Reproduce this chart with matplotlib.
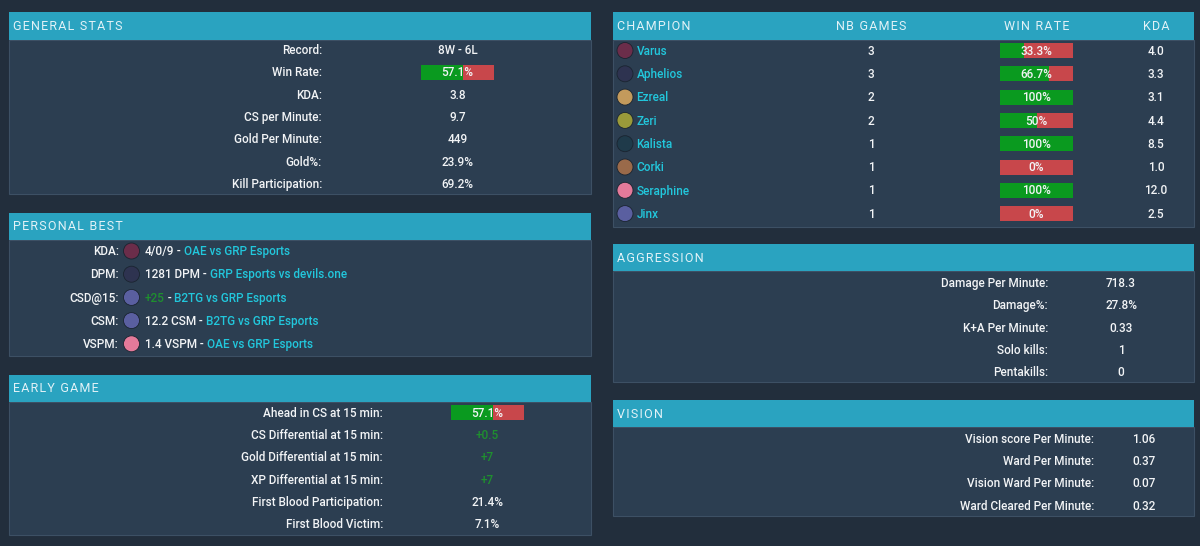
import matplotlib
matplotlib.use("Agg")
import matplotlib.pyplot as plt
from matplotlib.patches import Rectangle, Circle

plt.rcParams['font.family'] = ['Roboto', 'DejaVu Sans']

# ---------------- data ----------------
general_labels = ["Record:", "Win Rate:", "KDA:", "CS per Minute:", "Gold Per Minute:",
                  "Gold%:", "Kill Participation:"]
general_values = ["8W - 6L", "57.1%", "3.8", "9.7", "449", "23.9%", "69.2%"]
general_winrate = 57.1

pb_labels = ["KDA:", "DPM:", "CSD@15:", "CSM:", "VSPM:"]
pb_champs = ["Varus", "Aphelios", "Jinx", "Jinx", "Seraphine"]
pb_values = ["4/0/9", "1281 DPM", "+25", "12.2 CSM", "1.4 VSPM"]
pb_matches = ["OAE vs GRP Esports", "GRP Esports vs devils.one", "B2TG vs GRP Esports",
              "B2TG vs GRP Esports", "OAE vs GRP Esports"]

early_labels = ["Ahead in CS at 15 min:", "CS Differential at 15 min:",
                "Gold Differential at 15 min:", "XP Differential at 15 min:",
                "First Blood Participation:", "First Blood Victim:"]
early_values = ["57.1%", "+0.5", "+7", "+7", "21.4%", "7.1%"]
early_ahead = 57.1

champ_header = ["CHAMPION", "NB GAMES", "WIN RATE", "KDA"]
champions = ["Varus", "Aphelios", "Ezreal", "Zeri", "Kalista", "Corki", "Seraphine", "Jinx"]
nb_games = [3, 3, 2, 2, 1, 1, 1, 1]
champ_winrate = [33.3, 66.7, 100, 50, 100, 0, 100, 0]
champ_winrate_txt = ["33.3%", "66.7%", "100%", "50%", "100%", "0%", "100%", "0%"]
champ_kda = ["4.0", "3.3", "3.1", "4.4", "8.5", "1.0", "12.0", "2.5"]

aggr_labels = ["Damage Per Minute:", "Damage%:", "K+A Per Minute:", "Solo kills:", "Pentakills:"]
aggr_values = ["718.3", "27.8%", "0.33", "1", "0"]

vision_labels = ["Vision score Per Minute:", "Ward Per Minute:", "Vision Ward Per Minute:",
                 "Ward Cleared Per Minute:"]
vision_values = ["1.06", "0.37", "0.07", "0.32"]

# ---------------- style ----------------
BG = "#222e3c"
PANEL = "#2c3e51"
HEADER = "#2aa3c0"
BORDER = "#3d5064"
WHITE = "#f2f4f6"
CYAN = "#22c7dc"
GREEN = "#0a9a1f"
RED = "#c8474b"
GREEN_TXT = "#1f8f2f"
HEAD_TXT = "#e2f2f7"
FS = 8.5
FW = "medium"
HFS = 9.0
DY = 0.7

champ_colors = {"Varus": "#6b2d4a", "Aphelios": "#2e3350", "Ezreal": "#c39a5c",
                "Zeri": "#9a9a3a", "Kalista": "#1f3a4a", "Corki": "#9a6a4a",
                "Seraphine": "#e47a9a", "Jinx": "#5a5fa0"}

fig = plt.figure(figsize=(12, 5.46), dpi=100, facecolor=BG)
ax = fig.add_axes([0, 0, 1, 1])
ax.set_xlim(0, 1200)
ax.set_ylim(546, 0)
ax.axis("off")
ax.set_facecolor(BG)


def spaced(s):
    return "\u200a".join(list(s))


def txt(x, y, s, color=WHITE, ha="left"):
    return ax.text(x, y + DY, s, color=color, fontsize=FS, fontweight=FW, ha=ha, va="center")


def head(x, y, s, ha="left"):
    ax.text(x, y, spaced(s), color=HEAD_TXT, fontsize=HFS, fontweight="normal",
            va="center", ha=ha)


def panel(x0, x1, ht, hb, bb, title):
    ax.add_patch(Rectangle((x0, hb), x1 - x0, bb - hb, facecolor=PANEL, edgecolor=BORDER, lw=0.8))
    ax.add_patch(Rectangle((x0, ht), x1 - x0, hb - ht, facecolor=HEADER, edgecolor="none"))
    if title:
        head(x0 + 4, (ht + hb) / 2 + 0.5, title)


def wr_bar(xc, y, pct, label, w=73, h=15):
    x0 = xc - w / 2
    g = w * pct / 100.0
    ax.barh([y], [g], left=[x0], height=h, color=GREEN, edgecolor="none")
    ax.barh([y], [w - g], left=[x0 + g], height=h, color=RED, edgecolor="none")
    txt(xc, y, label, ha="center")


def icon(x, y, name, r=8):
    ax.add_patch(Circle((x, y), r, facecolor=champ_colors[name], edgecolor="#1a2430", lw=0.6))


# General stats
panel(9, 591, 12, 40, 194, "GENERAL STATS")
gy = [50, 72.3, 94.6, 116.9, 139.2, 161.5, 183.6]
for i, (lab, val) in enumerate(zip(general_labels, general_values)):
    txt(322, gy[i], lab, ha="right")
    if lab == "Win Rate:":
        wr_bar(457.5, gy[i], general_winrate, val)
    else:
        txt(457.5, gy[i], val, ha="center")

# Personal best
panel(9, 591, 213, 240, 356, "PERSONAL BEST")
fig.canvas.draw()
renderer = fig.canvas.get_renderer()
inv = ax.transData.inverted()
py = [251, 274.2, 297.4, 320.6, 343.8]
for i in range(len(pb_labels)):
    y = py[i]
    txt(119, y, pb_labels[i], ha="right")
    icon(131.5, y, pb_champs[i])
    segs = [(pb_values[i], GREEN_TXT if pb_values[i].startswith("+") else WHITE),
            (" - ", WHITE), (pb_matches[i], CYAN)]
    x = 145
    for s, c in segs:
        t = txt(x, y, s, color=c)
        bb = t.get_window_extent(renderer=renderer)
        x = inv.transform((bb.x1, bb.y0))[0]

# Early game
panel(9, 591, 375, 402, 535, "EARLY GAME")
ey = [412.5, 434.8, 457.1, 479.4, 501.7, 524]
for i, (lab, val) in enumerate(zip(early_labels, early_values)):
    txt(383, ey[i], lab, ha="right")
    if i == 0:
        wr_bar(487.5, ey[i], early_ahead, val)
    else:
        col = GREEN_TXT if val.startswith("+") else WHITE
        txt(487.5, ey[i], val, color=col, ha="center")

# Champion table
panel(613, 1194, 12, 40, 227, None)
hx = [617, 871, 1037, 1156]
ha = ["left", "center", "center", "center"]
for h, x, a in zip(champ_header, hx, ha):
    head(x, 26.5, h, ha=a)
cy = [50.5, 73.8, 97.1, 120.4, 143.7, 167, 190.3, 213.6]
for i, name in enumerate(champions):
    y = cy[i]
    icon(625, y, name)
    txt(636.5, y, name, color=CYAN)
    txt(871, y, str(nb_games[i]), ha="center")
    wr_bar(1036.5, y, champ_winrate[i], champ_winrate_txt[i])
    txt(1156, y, champ_kda[i], ha="center")

# Aggression
panel(613, 1194, 244, 271, 382, "AGGRESSION")
ay = [283, 305.2, 327.4, 349.6, 371.8]
for i, (lab, val) in enumerate(zip(aggr_labels, aggr_values)):
    txt(1048, ay[i], lab, ha="right")
    txt(1121, ay[i], val, ha="center")

# Vision
panel(613, 1194, 400, 427, 516, "VISION")
vy = [438.5, 460.8, 483.1, 505.4]
for i, (lab, val) in enumerate(zip(vision_labels, vision_values)):
    txt(1094, vy[i], lab, ha="right")
    txt(1144, vy[i], val, ha="center")

fig.savefig("out.png", dpi=100, facecolor=BG)
